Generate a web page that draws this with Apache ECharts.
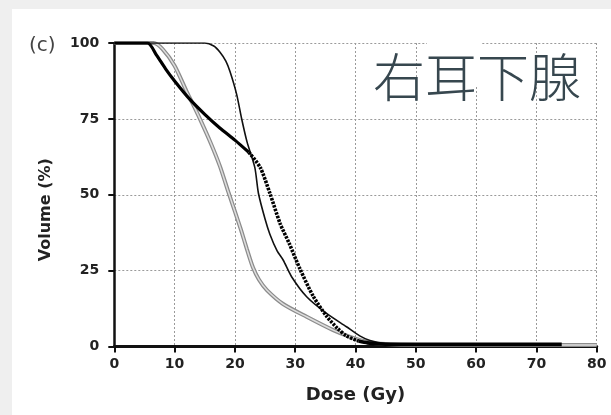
<!DOCTYPE html>
<html>
<head>
<meta charset="utf-8">
<script src="https://cdn.jsdelivr.net/npm/echarts@6/dist/echarts.min.js"></script>
<style>
  html, body { margin: 0; padding: 0; background: #efefef; width: 611px; height: 415px; overflow: hidden; }
  #chart { position: absolute; left: 12px; top: 9px; width: 599px; height: 406px; background: #ffffff; }
</style>
</head>
<body>
<div id="chart"></div>
<script>
// Dose-volume histogram, right parotid gland (dose in Gy, volume in %)
const xTicks = [0, 10, 20, 30, 40, 50, 60, 70, 80];
const yTicks = [0, 25, 50, 75, 100];

// Plan A: thick line — solid shoulder, beaded fall-off, solid tail
const planAHeadDose = [0, 5.5, 7, 8.5, 10, 12.5, 15, 17.5, 20, 22.3];
const planAHeadVol  = [100, 100, 96, 91.5, 87.5, 81.5, 76.5, 72, 68, 64];
const planAMidDose  = [22.3, 24.2, 25.8, 27.5, 29, 30.8, 33, 35.2, 37, 38.5, 40.5];
const planAMidVol   = [64, 59, 50.5, 40.5, 34, 25.5, 16.5, 10, 6, 3.5, 1.8];
const planATailDose = [40.5, 42, 44, 50, 60, 74.2];
const planATailVol  = [1.8, 1.2, 0.8, 0.7, 0.7, 0.7];

// Plan B: thin black line
const planBDose = [0, 15, 16.5, 17.5, 18.5, 19.2, 20.3, 21.1, 22, 23.3, 23.9, 25, 25.8, 27, 28, 29.4, 31.9, 35.2, 38.5, 40.7, 42.4, 45, 50];
const planBVol  = [100, 100, 99, 97, 94, 90.5, 83, 75.2, 67.5, 59, 50.5, 42, 37, 31.5, 28.5, 23, 16.4, 10.9, 6.5, 3.5, 2, 1, 0.7];

// Plan C: grey hollow line
const planCDose = [0, 6.5, 8, 10, 12, 13, 14.2, 16, 17.5, 18.9, 20, 21, 22, 23, 24, 25.3, 28, 31.9, 36.3, 39.1, 42, 45, 50, 60, 70, 80];
const planCVol  = [100, 100, 98, 92.5, 84, 80, 75, 67, 59.5, 51, 44.5, 38.5, 32, 26, 22, 18.6, 14, 9.8, 5.4, 3.2, 1.5, 0.8, 0.5, 0.5, 0.5, 0.5];

const pairs = (xs, ys) => xs.map((x, i) => [x, ys[i]]);

const tickFont = { fontFamily: 'DejaVu Sans', fontWeight: 'bold', fontSize: 14, color: '#222' };
const gridLine = { show: true, lineStyle: { color: '#9a9a9a', width: 1, type: [2, 2] } };

const curve = (data, style, z) => ({
  type: 'line', data, showSymbol: false, smooth: 0.25, z, lineStyle: style
});

const chart = echarts.init(document.getElementById('chart'), null, { renderer: 'canvas' });
chart.setOption({
  animation: false,
  backgroundColor: '#ffffff',
  grid: { left: 102.3, right: 14.3, top: 34, bottom: 68.5, containLabel: false },
  xAxis: {
    type: 'value', min: xTicks[0], max: xTicks[xTicks.length - 1], interval: 10,
    name: 'Dose (Gy)', nameLocation: 'middle', nameGap: 40,
    nameTextStyle: { fontFamily: 'DejaVu Sans', fontWeight: 'bold', fontSize: 18, color: '#222' },
    axisLine: { lineStyle: { color: '#111', width: 3 } },
    axisTick: { length: 6, lineStyle: { color: '#111', width: 2 } },
    axisLabel: Object.assign({ margin: 11 }, tickFont),
    splitLine: gridLine
  },
  yAxis: {
    type: 'value', min: yTicks[0], max: yTicks[yTicks.length - 1], interval: 25,
    name: 'Volume (%)', nameLocation: 'middle', nameGap: 60,
    nameTextStyle: { fontFamily: 'DejaVu Sans', fontWeight: 'bold', fontSize: 16, color: '#222', padding: [0, 30, 0, 0] },
    axisLine: { lineStyle: { color: '#111', width: 2.5 } },
    axisTick: { length: 6, lineStyle: { color: '#111', width: 2 } },
    axisLabel: Object.assign({ margin: 15 }, tickFont),
    splitLine: gridLine
  },
  series: [
    curve(pairs(planCDose, planCVol), { color: '#8c8c8c', width: 4 }, 3),
    curve(pairs(planCDose, planCVol), { color: '#dedede', width: 1.5 }, 4),
    curve(pairs(planBDose, planBVol), { color: '#111', width: 1.6 }, 5),
    curve(pairs(planAHeadDose, planAHeadVol), { color: '#000', width: 3.2 }, 6),
    curve(pairs(planAMidDose, planAMidVol), { color: '#000', width: 3.6, type: [2.5, 1.2] }, 6),
    curve(pairs(planATailDose, planATailVol), { color: '#000', width: 3.6 }, 6)
  ],
  graphic: [
    { type: 'rect', z: 100, shape: { x: 415, y: 29, width: 54, height: 47 }, style: { fill: '#ffffff' } },
    { type: 'text', z: 101, x: 361, y: 68,
      style: { text: '右耳下腺', font: '300 52px "Noto Sans CJK SC"', fill: '#37474f', textVerticalAlign: 'middle' } },
    { type: 'text', z: 101, x: 17, y: 37,
      style: { text: '(c)', font: '20px "DejaVu Sans"', fill: '#444', textVerticalAlign: 'middle' } }
  ]
});
</script>
</body>
</html>
